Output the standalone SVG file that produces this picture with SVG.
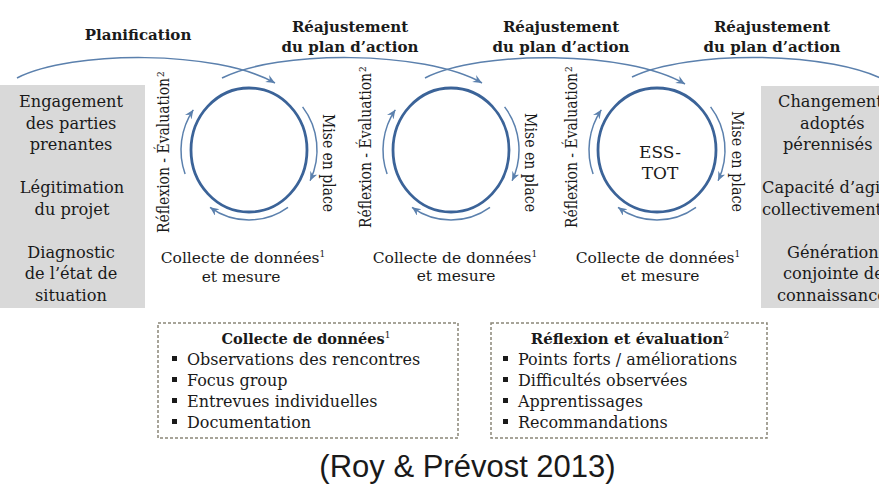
<svg xmlns="http://www.w3.org/2000/svg" width="879" height="497" viewBox="0 0 879 497">
<style>
.t{font-family:"DejaVu Serif","Liberation Serif",serif;fill:#1a1a1a;font-size:15.5px}
.c{text-anchor:middle}
.b{font-weight:bold;font-size:15px}
.bx{font-weight:bold;font-size:14.5px}
.g{font-size:16.2px}
.it{font-size:16px}
.sup{font-size:9px}
.circ{fill:none;stroke:#3b6398;stroke-width:2.8}
.arc{fill:none;stroke:#5b80ad;stroke-width:1.5;marker-end:url(#ah)}
.top{fill:none;stroke:#5b80ad;stroke-width:1.5}
.gray{fill:#d9d9d9}
.dash{fill:none;stroke:#8b8678;stroke-width:1.5;stroke-dasharray:3 2}
.bul{fill:#1a1a1a}
</style>
<defs>
<marker id="ah" markerUnits="userSpaceOnUse" markerWidth="12" markerHeight="10" refX="9" refY="4" orient="auto">
<path d="M0,0 L9,4 L0,8 L3,4 z" fill="#5b80ad"/>
</marker>
</defs>
<rect width="879" height="497" fill="#fff"/>

<g id="left-box">
<rect class="gray" x="0" y="85" width="145" height="223"/>
<text class="t c g" x="71" y="107">Engagement</text>
<text class="t c g" x="71" y="128.5">des parties</text>
<text class="t c g" x="71" y="150">prenantes</text>
<text class="t c g" x="72" y="193">Légitimation</text>
<text class="t c g" x="72" y="214.5">du projet</text>
<text class="t c g" x="71" y="257.5">Diagnostic</text>
<text class="t c g" x="71" y="279">de l’état de</text>
<text class="t c g" x="71" y="300.5">situation</text>
</g>

<g id="right-box">
<rect class="gray" x="761" y="86" width="118" height="222"/>
<text class="t g" x="778" y="107">Changements</text>
<text class="t g" x="800" y="128.5">adoptés</text>
<text class="t g" x="783" y="150">pérennisés</text>
<text class="t g" x="762" y="193">Capacité d’agir</text>
<text class="t g" x="762" y="214.5">collectivement</text>
<text class="t g" x="787" y="257.5">Génération</text>
<text class="t g" x="783" y="279">conjointe de</text>
<text class="t g" x="777" y="300.5">connaissances</text>
</g>

<g id="labels-top">
<text class="t c b" x="138" y="40">Planification</text>
<text class="t c b" x="350" y="32">Réajustement</text>
<text class="t c b" x="350" y="52">du plan d’action</text>
<text class="t c b" x="561" y="32">Réajustement</text>
<text class="t c b" x="561" y="52">du plan d’action</text>
<text class="t c b" x="772" y="32">Réajustement</text>
<text class="t c b" x="772" y="52">du plan d’action</text>
</g>

<g id="connectors">
<path class="top" marker-end="url(#ah)" d="M17,78 C72,50 217,50 275,83"/>
<path class="top" marker-end="url(#ah)" d="M222,78 C277,50 424,50 482,83"/>
<path class="top" marker-end="url(#ah)" d="M425,78 C480,50 627,50 685,84"/>
<path class="top" d="M632,77 C687,50 834,50 890,83"/>
<path class="arc" d="M185.1,173.9 A68,70 0 0 1 193.3,109.8"/>
<path class="arc" d="M302.6,106.9 A68,70 0 0 1 310.1,180.7"/>
<path class="arc" d="M288,207.3 A68,70 0 0 1 210,207.3"/>
<path class="arc" d="M387.1,173.9 A68,70 0 0 1 395.3,109.8"/>
<path class="arc" d="M504.6,106.9 A68,70 0 0 1 512.1,180.7"/>
<path class="arc" d="M490,207.3 A68,70 0 0 1 412,207.3"/>
<path class="arc" d="M593.1,173.9 A68,70 0 0 1 601.3,109.8"/>
<path class="arc" d="M710.6,106.9 A68,70 0 0 1 718.1,180.7"/>
<path class="arc" d="M696,207.3 A68,70 0 0 1 618,207.3"/>
</g>

<g id="cycle1">
<ellipse class="circ" cx="249" cy="150" rx="58" ry="62"/>
<text class="t" transform="translate(169,233) rotate(-90)" textLength="155" lengthAdjust="spacingAndGlyphs" style="font-size:16px">Réflexion - Évaluation</text>
<text class="t sup" transform="translate(164,77) rotate(-90)">2</text>
<text class="t" transform="translate(323,114) rotate(90)" textLength="98" lengthAdjust="spacingAndGlyphs" style="font-size:16px">Mise en place</text>
<text class="t c" x="243" y="263">Collecte de données<tspan class="sup" dy="-6">1</tspan></text>
<text class="t c" x="241" y="282">et mesure</text>
</g>

<g id="cycle2">
<ellipse class="circ" cx="451" cy="150" rx="58" ry="62"/>
<text class="t" transform="translate(371,228) rotate(-90)" textLength="155" lengthAdjust="spacingAndGlyphs" style="font-size:16px">Réflexion - Évaluation</text>
<text class="t sup" transform="translate(366,72) rotate(-90)">2</text>
<text class="t" transform="translate(525,113) rotate(90)" textLength="99" lengthAdjust="spacingAndGlyphs" style="font-size:16px">Mise en place</text>
<text class="t c" x="455" y="263">Collecte de données<tspan class="sup" dy="-6">1</tspan></text>
<text class="t c" x="456" y="281">et mesure</text>
</g>

<g id="cycle3">
<ellipse class="circ" cx="657" cy="150" rx="59" ry="62"/>
<text class="t c" x="660" y="158" style="font-size:17px">ESS-</text>
<text class="t c" x="660" y="179" style="font-size:17px">TOT</text>
<text class="t" transform="translate(577,228) rotate(-90)" textLength="155" lengthAdjust="spacingAndGlyphs" style="font-size:16px">Réflexion - Évaluation</text>
<text class="t sup" transform="translate(572,72) rotate(-90)">2</text>
<text class="t" transform="translate(732,111) rotate(90)" textLength="101" lengthAdjust="spacingAndGlyphs" style="font-size:16px">Mise en place</text>
<text class="t c" x="658" y="263">Collecte de données<tspan class="sup" dy="-6">1</tspan></text>
<text class="t c" x="660" y="281">et mesure</text>
</g>

<g id="box-collecte">
<rect class="dash" x="158" y="323" width="300" height="115"/>
<text class="t c bx" x="306" y="344">Collecte de données<tspan class="sup" dy="-6" style="font-weight:normal">1</tspan></text>
<rect class="bul" x="172" y="356" width="5" height="5"/>
<text class="t it" x="187" y="364.5">Observations des rencontres</text>
<rect class="bul" x="172" y="377" width="5" height="5"/>
<text class="t it" x="187" y="385.5">Focus group</text>
<rect class="bul" x="172" y="398" width="5" height="5"/>
<text class="t it" x="187" y="406.5">Entrevues individuelles</text>
<rect class="bul" x="172" y="419" width="5" height="5"/>
<text class="t it" x="187" y="427.5">Documentation</text>
</g>

<g id="box-reflexion">
<rect class="dash" x="491" y="323" width="276" height="115"/>
<text class="t c b" x="630" y="344">Réflexion et évaluation<tspan class="sup" dy="-6" style="font-weight:normal">2</tspan></text>
<rect class="bul" x="503" y="356" width="5" height="5"/>
<text class="t it" x="518" y="364.5">Points forts / améliorations</text>
<rect class="bul" x="503" y="377" width="5" height="5"/>
<text class="t it" x="518" y="385.5">Difficultés observées</text>
<rect class="bul" x="503" y="398" width="5" height="5"/>
<text class="t it" x="518" y="406.5">Apprentissages</text>
<rect class="bul" x="503" y="419" width="5" height="5"/>
<text class="t it" x="518" y="427.5">Recommandations</text>
</g>

<g id="caption">
<text x="467.5" y="477" text-anchor="middle" style="font-family:'Liberation Sans',Arial,sans-serif;font-size:31px;fill:#1a1a1a">(Roy &amp; Prévost 2013)</text>
</g>
</svg>
